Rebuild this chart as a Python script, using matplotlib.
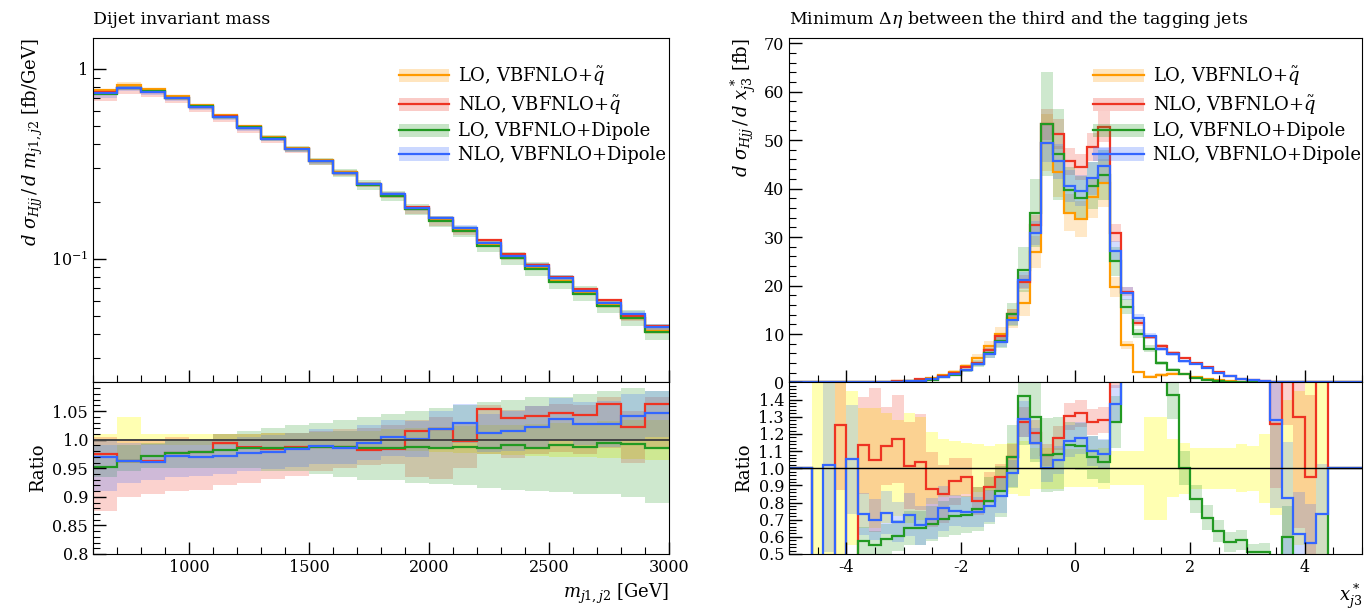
import numpy as np
import matplotlib
matplotlib.use('Agg')
import matplotlib.pyplot as plt
from matplotlib.lines import Line2D
from matplotlib.patches import Patch
from matplotlib.ticker import MultipleLocator, FixedLocator, LogLocator, NullFormatter, FixedFormatter

plt.rcParams['font.family'] = ['DejaVu Serif']
plt.rcParams['mathtext.fontset'] = 'dejavuserif'
plt.rcParams['axes.unicode_minus'] = False

labels = [r'LO, VBFNLO+$\tilde{q}$', r'NLO, VBFNLO+$\tilde{q}$',
          'LO, VBFNLO+Dipole', 'NLO, VBFNLO+Dipole']
colors = ['#ff9a00', '#ee3322', '#229922', '#3366ff']

# ---- dijet invariant mass, 100 GeV bins from 600 to 3000
mjj_edges = np.arange(600, 3001, 100)
mjj_lo_q = [0.775, 0.823, 0.784, 0.723, 0.648, 0.571, 0.500, 0.439, 0.385, 0.331, 0.287, 0.249,
            0.218, 0.184, 0.160, 0.141, 0.119, 0.102, 0.0893, 0.0765, 0.0662, 0.0569, 0.049, 0.0418]
mjj_lo_q_err = [0.010, 0.040, 0.010, 0.010, 0.010, 0.010, 0.010, 0.012, 0.012, 0.014, 0.015, 0.016,
                0.018, 0.020, 0.022, 0.024, 0.025, 0.026, 0.028, 0.030, 0.030, 0.032, 0.034, 0.035]
# ratios to LO, VBFNLO+q~
mjj_r_nlo_q = [0.975, 0.962, 0.962, 0.976, 0.978, 0.995, 0.987, 0.984, 0.988, 0.988, 0.987, 0.982,
               0.984, 1.015, 1.019, 0.998, 1.053, 1.038, 1.041, 1.046, 1.043, 1.063, 1.022, 1.063]
mjj_r_lo_dip = [0.953, 0.963, 0.972, 0.976, 0.979, 0.982, 0.985, 0.985, 0.986, 0.987, 0.988, 0.986,
                0.986, 0.988, 0.986, 0.988, 0.986, 0.990, 0.986, 0.991, 0.988, 0.994, 0.992, 0.986]
mjj_r_nlo_dip = [0.969, 0.963, 0.961, 0.971, 0.969, 0.972, 0.976, 0.979, 0.984, 0.989, 0.986, 0.995,
                 1.004, 1.001, 1.019, 1.029, 1.012, 1.015, 1.022, 1.036, 1.028, 1.028, 1.041, 1.047]
mjj_nlo_q_lo = [0.875, 0.900, 0.905, 0.910, 0.912, 0.920, 0.925, 0.932, 0.936, 0.945, 0.950, 0.955,
                0.958, 0.935, 0.932, 0.950, 0.975, 0.968, 0.975, 0.978, 0.975, 0.985, 0.960, 0.985]
mjj_nlo_q_hi = [1.005, 1.000, 1.000, 1.005, 1.002, 1.010, 1.010, 1.012, 1.012, 1.015, 1.018, 1.020,
                1.025, 1.035, 1.040, 1.030, 1.060, 1.052, 1.058, 1.062, 1.060, 1.075, 1.050, 1.075]
mjj_lo_dip_lo = [0.935, 0.945, 0.950, 0.950, 0.950, 0.950, 0.950, 0.945, 0.945, 0.940, 0.935, 0.930,
                 0.930, 0.925, 0.922, 0.920, 0.915, 0.912, 0.910, 0.908, 0.905, 0.905, 0.900, 0.890]
mjj_lo_dip_hi = [0.990, 0.990, 0.995, 1.000, 1.000, 1.010, 1.015, 1.020, 1.025, 1.030, 1.035, 1.040,
                 1.045, 1.050, 1.055, 1.060, 1.065, 1.070, 1.075, 1.075, 1.080, 1.085, 1.090, 1.085]
mjj_nlo_dip_lo = [0.910, 0.925, 0.930, 0.935, 0.937, 0.940, 0.945, 0.948, 0.952, 0.958, 0.958, 0.965,
                  0.972, 0.970, 0.985, 0.995, 0.978, 0.980, 0.985, 0.998, 0.990, 0.988, 1.000, 1.005]
mjj_nlo_dip_hi = [1.000, 0.995, 0.992, 1.000, 1.000, 1.002, 1.005, 1.008, 1.012, 1.018, 1.015, 1.025,
                  1.034, 1.032, 1.050, 1.062, 1.045, 1.050, 1.058, 1.072, 1.065, 1.068, 1.080, 1.085]

# ---- x*_j3, 0.2 bins from -5 to 5
xj3_edges = np.linspace(-5, 5, 51)
xj3_lo_q = [0, 0, 0.005, 0.01, 0.02, 0.035, 0.06, 0.1, 0.17, 0.26, 0.4, 0.6, 0.9, 1.5, 2.2, 3.4, 5.1,
            7.5, 10.0, 13.2, 16.4, 26.9, 49.5, 43.5, 35.0, 33.7, 38.2, 41.2, 19.7, 7.7, 2.2, 1.2, 1.5,
            1.85, 1.7, 1.1, 0.8, 0.55, 0.35, 0.2, 0.1, 0.05, 0.025, 0.012, 0.006, 0.003, 0.0015, 0, 0, 0]
xj3_nlo_q = [0, 0, 0, 0, 0.025, 0, 0.068, 0.105, 0.192, 0.304, 0.406, 0.621, 0.79, 1.275, 2.03, 3.22,
             4.12, 6.66, 9.5, 14.1, 20.8, 32.5, 53.3, 51.2, 45.6, 44.5, 48.5, 52.8, 30.8, 18.7, 12.2,
             9.4, 7.5, 6.1, 5.1, 4.1, 3.1, 2.2, 1.4, 0.8, 0.45, 0.25, 0.0315, 0.03, 0.0078, 0.00285,
             0.005, 0, 0, 0]
xj3_lo_dip = [0, 0, 0, 0, 0, 0, 0.0344, 0.055, 0.1, 0.158, 0.261, 0.391, 0.609, 1.056, 1.584, 2.48,
              3.88, 6.08, 8.65, 14.1, 23.3, 34.9, 53.3, 47.1, 39.7, 38.0, 40.6, 42.8, 25.0, 15.6, 10.1,
              7.0, 4.1, 2.64, 1.7, 0.9, 0.57, 0.35, 0.2, 0.116, 0.051, 0.0257, 0, 0.0072, 0, 0, 0, 0, 0, 0]
xj3_nlo_dip = [0, 0, 0, 0.0102, 0, 0.0368, 0.044, 0.07, 0.126, 0.178, 0.292, 0.4, 0.634, 1.149, 1.657,
               2.53, 3.8, 5.84, 8.4, 12.8, 21.1, 30.8, 49.5, 45.6, 40.5, 39.6, 42.1, 44.7, 27.1, 18.4,
               13.2, 9.6, 7.0, 5.8, 4.4, 3.8, 2.9, 2.0, 1.3, 0.8, 0.45, 0.25, 0.032, 0.0099, 0.0037,
               0.0017, 0.0011, 0, 0, 0]
xj3_lo_q_err = [0, 0, 1.0, 0.6, 0.5, 0.45, 0.35, 0.35, 0.32, 0.28, 0.32, 0.3, 0.21, 0.17, 0.16, 0.15,
                0.14, 0.13, 0.14, 0.15, 0.16, 0.12, 0.12, 0.12, 0.11, 0.11, 0.11, 0.12, 0.10, 0.10, 0.10,
                0.30, 0.30, 0.17, 0.15, 0.12, 0.12, 0.12, 0.12, 0.14, 0.13, 0.20, 0.27, 0.40, 0.45, 0.50,
                0.60, 0, 0, 0]
xj3_nlo_q_err = [0, 0, 0, 0, 0.3, 0, 0.25, 0.4, 0.2, 0.22, 0.25, 0.27, 0.25, 0.2, 0.15, 0.12, 0.1, 0.1,
                 0.08, 0.07, 0.07, 0.06, 0.06, 0.06, 0.06, 0.06, 0.06, 0.06, 0.06, 0.05, 0.05, 0.05, 0.05,
                 0.05, 0.05, 0.05, 0.05, 0.05, 0.05, 0.05, 0.05, 0.2, 0.3, 0.5, 0.5, 0.5, 0.5, 0, 0, 0]
xj3_lo_dip_err = [0, 0, 0, 0, 0, 0, 0.15, 0.15, 0.15, 0.15, 0.15, 0.15, 0.15, 0.15, 0.15, 0.15, 0.17,
                  0.17, 0.17, 0.17, 0.2, 0.2, 0.2, 0.2, 0.12, 0.12, 0.12, 0.12, 0.12, 0.1, 0.1, 0.1, 0.1,
                  0.1, 0.1, 0.1, 0.1, 0.1, 0.1, 0.1, 0.1, 0.1, 0, 0.3, 0, 0, 0, 0, 0, 0]
xj3_nlo_dip_err = [0, 0, 0, 0.5, 0, 0.3, 0.17, 0.17, 0.17, 0.17, 0.17, 0.17, 0.17, 0.17, 0.12, 0.12,
                   0.12, 0.12, 0.12, 0.08, 0.08, 0.08, 0.08, 0.08, 0.08, 0.08, 0.08, 0.08, 0.08, 0.07,
                   0.07, 0.07, 0.07, 0.07, 0.07, 0.07, 0.07, 0.07, 0.07, 0.07, 0.07, 0.4, 0.4, 0.4, 0.4,
                   0.4, 0.4, 0, 0, 0]


def ratio(v, ref):
    v = np.asarray(v, float)
    ref = np.asarray(ref, float)
    safe = np.where(ref > 0, ref, 1.0)
    return np.where(ref > 0, v / safe, np.where(v > 0, 10.0, 1.0))


def style_axes(ax):
    ax.tick_params(which='both', direction='in', top=False, right=False, labelsize=11.5)
    ax.tick_params(which='major', length=9, width=1)
    ax.tick_params(which='minor', length=5, width=0.8)


def legend(ax):
    handles = [(Patch(facecolor=c, alpha=0.25, lw=0), Line2D([], [], color=c, lw=1.6)) for c in colors]
    ax.legend(handles, labels, loc='upper left', bbox_to_anchor=(0.515, 0.95), frameon=False,
              fontsize=13, handlelength=2.8, handleheight=0.75, handletextpad=0.5,
              labelspacing=0.32, borderpad=0)


fig = plt.figure(figsize=(13.64, 6.11), dpi=100)
axL = fig.add_axes([0.0682, 0.374, 0.4223, 0.5633])
axLr = fig.add_axes([0.0682, 0.0933, 0.4223, 0.2807], sharex=axL)
axR = fig.add_axes([0.5784, 0.374, 0.4201, 0.5633])
axRr = fig.add_axes([0.5784, 0.0933, 0.4201, 0.2807], sharex=axR)

# ---------- left: dijet mass
ref = np.array(mjj_lo_q)
rats = [np.ones_like(ref), np.array(mjj_r_nlo_q), np.array(mjj_r_lo_dip), np.array(mjj_r_nlo_dip)]
band_lo = [1 - np.array(mjj_lo_q_err), np.array(mjj_nlo_q_lo), np.array(mjj_lo_dip_lo), np.array(mjj_nlo_dip_lo)]
band_hi = [1 + np.array(mjj_lo_q_err), np.array(mjj_nlo_q_hi), np.array(mjj_lo_dip_hi), np.array(mjj_nlo_dip_hi)]

for c, lo, hi in zip(colors, band_lo, band_hi):
    axL.stairs(ref * hi, mjj_edges, baseline=ref * lo, fill=True, color=c, alpha=0.22, lw=0)
for c, r in zip(colors, rats):
    axL.stairs(ref * r, mjj_edges, baseline=None, color=c, lw=1.6)

axLr.stairs(band_hi[0], mjj_edges, baseline=band_lo[0], fill=True, color='yellow', alpha=0.3, lw=0)
for c, lo, hi in zip(colors[1:], band_lo[1:], band_hi[1:]):
    axLr.stairs(hi, mjj_edges, baseline=lo, fill=True, color=c, alpha=0.22, lw=0)
axLr.axhline(1.0, color='#444444', lw=1.4)
for c, r in zip(colors[1:], rats[1:]):
    axLr.stairs(r, mjj_edges, baseline=None, color=c, lw=1.6)

axL.set_yscale('log')
axL.set_xlim(600, 3000)
axL.set_ylim(0.0223, 1.45)
axL.yaxis.set_major_locator(FixedLocator([0.1, 1]))
axL.yaxis.set_major_formatter(FixedFormatter([r'$10^{-1}$', '1']))
axL.yaxis.set_minor_locator(LogLocator(base=10, subs=np.arange(2, 10)))
axL.yaxis.set_minor_formatter(NullFormatter())
axL.xaxis.set_major_locator(MultipleLocator(500))
axL.xaxis.set_minor_locator(MultipleLocator(100))
axL.tick_params(labelbottom=False)
style_axes(axL)
axL.set_title('Dijet invariant mass', loc='left', fontsize=12.5, pad=10)
axL.set_ylabel(r'$d\ \sigma_{Hjj}\,/\,d\ m_{j1,j2}$ [fb/GeV]', loc='top', fontsize=13)
legend(axL)

axLr.set_ylim(0.8, 1.1)
axLr.yaxis.set_major_locator(FixedLocator([0.8, 0.85, 0.9, 0.95, 1.0, 1.05]))
axLr.yaxis.set_major_formatter(FixedFormatter(['0.8', '0.85', '0.9', '0.95', '1.0', '1.05']))
axLr.yaxis.set_minor_locator(MultipleLocator(0.01))
style_axes(axLr)
axLr.set_ylabel('Ratio', fontsize=13)
axLr.set_xlabel(r'$m_{j1,j2}$ [GeV]', loc='right', fontsize=13)

# ---------- right: x*_j3
ref = np.array(xj3_lo_q)
vals = [ref, np.array(xj3_nlo_q), np.array(xj3_lo_dip), np.array(xj3_nlo_dip)]
errs = [np.array(xj3_lo_q_err), np.array(xj3_nlo_q_err), np.array(xj3_lo_dip_err), np.array(xj3_nlo_dip_err)]

for c, v, e in zip(colors, vals, errs):
    axR.stairs(v * (1 + e), xj3_edges, baseline=v * (1 - e), fill=True, color=c, alpha=0.22, lw=0)
for c, v in zip(colors, vals):
    axR.stairs(v, xj3_edges, baseline=None, color=c, lw=1.6)

ref_lo = np.where(ref > 0, 1 - errs[0], 1.0)
ref_hi = np.where(ref > 0, 1 + errs[0], 1.0)
axRr.stairs(ref_hi, xj3_edges, baseline=ref_lo, fill=True, color='yellow', alpha=0.3, lw=0)
for c, v, e in zip(colors[1:], vals[1:], errs[1:]):
    axRr.stairs(ratio(v * (1 + e), ref), xj3_edges, baseline=ratio(v * (1 - e), ref),
                fill=True, color=c, alpha=0.22, lw=0)
axRr.axhline(1.0, color='black', lw=1.0)
for c, v in zip(colors[1:], vals[1:]):
    axRr.stairs(ratio(v, ref), xj3_edges, baseline=None, color=c, lw=1.6)

axR.set_xlim(-5, 5)
axR.set_ylim(0, 71)
axR.yaxis.set_major_locator(MultipleLocator(10))
axR.yaxis.set_minor_locator(MultipleLocator(2))
axR.xaxis.set_major_locator(MultipleLocator(2))
axR.xaxis.set_minor_locator(MultipleLocator(0.5))
axR.tick_params(labelbottom=False)
style_axes(axR)
axR.set_title(r'Minimum $\Delta\eta$ between the third and the tagging jets', loc='left', fontsize=12.5, pad=10)
axR.set_ylabel(r'$d\ \sigma_{Hjj}\,/\,d\ x^*_{j3}$ [fb]', loc='top', fontsize=13)
legend(axR)

axRr.set_ylim(0.5, 1.5)
axRr.yaxis.set_major_locator(FixedLocator(np.round(np.arange(0.5, 1.45, 0.1), 1)))
axRr.yaxis.set_major_formatter(FixedFormatter(['%.1f' % t for t in np.arange(0.5, 1.45, 0.1)]))
axRr.yaxis.set_minor_locator(MultipleLocator(0.02))
style_axes(axRr)
axRr.set_ylabel('Ratio', fontsize=13)
axRr.set_xlabel(r'$x^*_{j3}$', loc='right', fontsize=13)

fig.savefig('out.png', dpi=100)
